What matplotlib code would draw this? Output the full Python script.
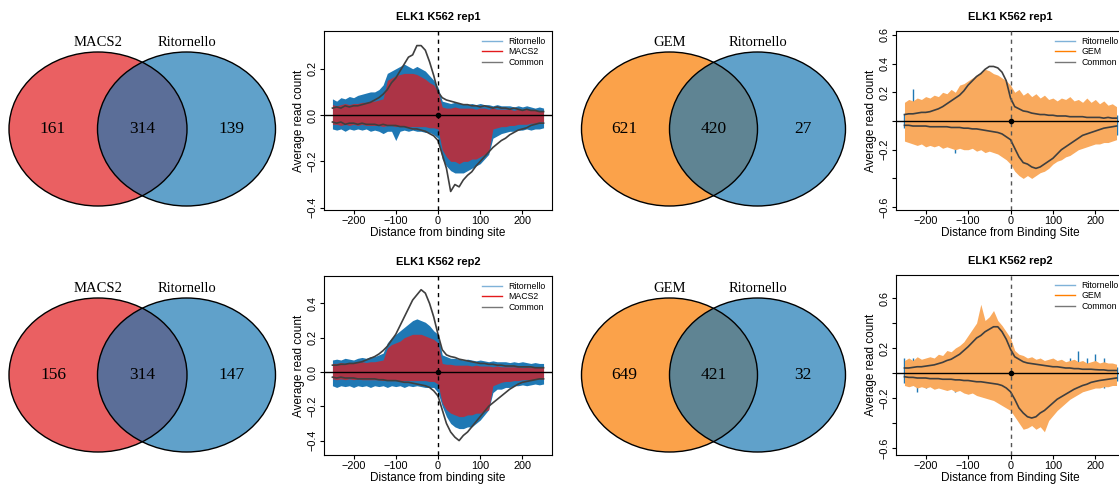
import matplotlib.pyplot as plt
from matplotlib.patches import Ellipse
from matplotlib.lines import Line2D

plt.rcParams['font.family'] = 'Liberation Sans'

# venn counts: [left only, overlap, right only]
venn_macs_rep1 = [161, 314, 139]
venn_macs_rep2 = [156, 314, 147]
venn_gem_rep1 = [621, 420, 27]
venn_gem_rep2 = [649, 421, 32]

# profile positions (bp from binding site), sampled every 10 bp
pos_bp = list(range(-250, 251, 10))

# ---- ELK1 K562 rep1, MACS2 vs Ritornello ----
rit_fwd_m1 = [0.07, 0.06, 0.075, 0.07, 0.08, 0.075, 0.085, 0.09, 0.095, 0.10,
              0.10, 0.11, 0.13, 0.18, 0.19, 0.20, 0.21, 0.22, 0.21, 0.20,
              0.21, 0.20, 0.19, 0.17, 0.15, 0.12, 0.06, 0.055, 0.05, 0.055,
              0.05, 0.05, 0.045, 0.05, 0.045, 0.05, 0.045, 0.045, 0.04, 0.045,
              0.04, 0.04, 0.04, 0.035, 0.04, 0.035, 0.04, 0.035, 0.03, 0.035, 0.03]
rit_rev_m1 = [-0.06, -0.065, -0.06, -0.07, -0.06, -0.065, -0.06, -0.065, -0.06, -0.07,
              -0.065, -0.07, -0.08, -0.07, -0.07, -0.11, -0.07, -0.065, -0.07, -0.065,
              -0.07, -0.07, -0.075, -0.075, -0.085, -0.10, -0.19, -0.22, -0.24, -0.25,
              -0.25, -0.25, -0.24, -0.23, -0.22, -0.21, -0.19, -0.17, -0.10, -0.09,
              -0.08, -0.075, -0.07, -0.07, -0.065, -0.065, -0.06, -0.065, -0.06, -0.06, -0.055]
macs_fwd_1 = [0.045, 0.04, 0.045, 0.05, 0.045, 0.05, 0.05, 0.055, 0.055, 0.06,
              0.06, 0.065, 0.07, 0.15, 0.16, 0.17, 0.175, 0.18, 0.18, 0.18,
              0.175, 0.165, 0.155, 0.14, 0.13, 0.10, 0.035, 0.03, 0.03, 0.035,
              0.03, 0.03, 0.03, 0.03, 0.025, 0.03, 0.03, 0.025, 0.03, 0.025,
              0.025, 0.025, 0.025, 0.02, 0.025, 0.02, 0.025, 0.02, 0.02, 0.02, 0.02]
macs_rev_1 = [-0.04, -0.04, -0.045, -0.04, -0.045, -0.04, -0.045, -0.04, -0.045, -0.045,
              -0.045, -0.045, -0.05, -0.045, -0.045, -0.05, -0.045, -0.05, -0.05, -0.05,
              -0.05, -0.05, -0.05, -0.055, -0.055, -0.06, -0.15, -0.18, -0.20, -0.20,
              -0.21, -0.20, -0.20, -0.19, -0.19, -0.18, -0.17, -0.16, -0.06, -0.055,
              -0.05, -0.05, -0.045, -0.045, -0.04, -0.04, -0.04, -0.035, -0.035, -0.03, -0.03]
com_fwd_m1 = [0.03, 0.035, 0.03, 0.04, 0.035, 0.04, 0.04, 0.045, 0.05, 0.055,
              0.065, 0.075, 0.09, 0.11, 0.14, 0.16, 0.19, 0.22, 0.25, 0.26,
              0.30, 0.30, 0.28, 0.23, 0.17, 0.10, 0.075, 0.065, 0.06, 0.055,
              0.05, 0.045, 0.045, 0.04, 0.04, 0.035, 0.04, 0.035, 0.03, 0.035,
              0.03, 0.03, 0.025, 0.03, 0.025, 0.02, 0.025, 0.02, 0.02, 0.015, 0.015]
com_rev_m1 = [-0.03, -0.035, -0.03, -0.04, -0.035, -0.035, -0.04, -0.035, -0.04, -0.04,
              -0.04, -0.045, -0.04, -0.045, -0.045, -0.045, -0.05, -0.05, -0.055, -0.06,
              -0.06, -0.065, -0.07, -0.08, -0.09, -0.11, -0.17, -0.23, -0.33, -0.30,
              -0.31, -0.28, -0.26, -0.245, -0.22, -0.20, -0.18, -0.16, -0.14, -0.125,
              -0.11, -0.10, -0.085, -0.075, -0.065, -0.06, -0.055, -0.045, -0.04, -0.035, -0.035]

# ---- ELK1 K562 rep2, MACS2 vs Ritornello ----
rit_fwd_m2 = [0.07, 0.075, 0.07, 0.08, 0.075, 0.07, 0.08, 0.085, 0.08, 0.09,
              0.09, 0.10, 0.11, 0.17, 0.20, 0.22, 0.24, 0.26, 0.28, 0.30,
              0.31, 0.30, 0.29, 0.27, 0.24, 0.22, 0.10, 0.09, 0.08, 0.08,
              0.075, 0.07, 0.075, 0.07, 0.065, 0.07, 0.065, 0.06, 0.065, 0.06,
              0.06, 0.06, 0.055, 0.06, 0.055, 0.06, 0.055, 0.05, 0.055, 0.05, 0.05]
rit_rev_m2 = [-0.08, -0.09, -0.08, -0.085, -0.08, -0.09, -0.08, -0.085, -0.08, -0.09,
              -0.08, -0.085, -0.08, -0.09, -0.08, -0.085, -0.08, -0.09, -0.08, -0.085,
              -0.08, -0.085, -0.09, -0.09, -0.09, -0.12, -0.20, -0.26, -0.30, -0.32,
              -0.33, -0.33, -0.32, -0.32, -0.30, -0.28, -0.25, -0.22, -0.12, -0.10,
              -0.10, -0.09, -0.09, -0.08, -0.08, -0.075, -0.08, -0.075, -0.07, -0.075, -0.07]
macs_fwd_2 = [0.05, 0.05, 0.055, 0.05, 0.055, 0.05, 0.055, 0.06, 0.055, 0.06,
              0.06, 0.065, 0.07, 0.14, 0.16, 0.17, 0.18, 0.20, 0.21, 0.22,
              0.22, 0.22, 0.21, 0.20, 0.19, 0.17, 0.05, 0.045, 0.045, 0.04,
              0.04, 0.04, 0.04, 0.035, 0.04, 0.035, 0.035, 0.035, 0.03, 0.035,
              0.03, 0.03, 0.03, 0.03, 0.03, 0.025, 0.03, 0.025, 0.03, 0.025, 0.03]
macs_rev_2 = [-0.04, -0.045, -0.04, -0.045, -0.04, -0.045, -0.04, -0.045, -0.045, -0.045,
              -0.045, -0.045, -0.05, -0.045, -0.05, -0.045, -0.05, -0.05, -0.05, -0.05,
              -0.05, -0.05, -0.05, -0.055, -0.055, -0.07, -0.18, -0.22, -0.24, -0.25,
              -0.26, -0.26, -0.25, -0.25, -0.24, -0.24, -0.23, -0.22, -0.08, -0.07,
              -0.06, -0.055, -0.055, -0.05, -0.05, -0.045, -0.045, -0.045, -0.04, -0.04, -0.04]
com_fwd_m2 = [0.04, 0.04, 0.045, 0.045, 0.05, 0.05, 0.055, 0.06, 0.07, 0.08,
              0.09, 0.105, 0.125, 0.15, 0.185, 0.22, 0.27, 0.32, 0.37, 0.42,
              0.45, 0.48, 0.46, 0.40, 0.32, 0.22, 0.13, 0.10, 0.09, 0.085,
              0.075, 0.07, 0.065, 0.06, 0.055, 0.05, 0.05, 0.045, 0.045, 0.04,
              0.04, 0.035, 0.035, 0.035, 0.03, 0.03, 0.03, 0.03, 0.025, 0.025, 0.025]
com_rev_m2 = [-0.03, -0.035, -0.03, -0.035, -0.035, -0.035, -0.04, -0.04, -0.04, -0.04,
              -0.04, -0.045, -0.045, -0.05, -0.05, -0.05, -0.055, -0.06, -0.06, -0.065,
              -0.07, -0.075, -0.08, -0.09, -0.11, -0.14, -0.22, -0.30, -0.35, -0.38,
              -0.40, -0.37, -0.35, -0.32, -0.29, -0.26, -0.23, -0.20, -0.18, -0.16,
              -0.14, -0.12, -0.10, -0.085, -0.07, -0.06, -0.055, -0.05, -0.045, -0.04, -0.04]

# ---- ELK1 K562 rep1, GEM vs Ritornello ----
rit_fwd_g1 = [0.05, 0.06, 0.22, 0.05, 0.06, 0.05, 0.06, 0.05, 0.06, 0.05,
              0.06, 0.05, 0.07, 0.06, 0.08, 0.07, 0.20, 0.08, 0.09, 0.10,
              0.09, 0.10, 0.09, 0.10, 0.26, 0.08, 0.06, 0.05, 0.12, 0.05,
              0.05, 0.04, 0.05, 0.04, 0.05, 0.04, 0.05, 0.04, 0.05, 0.04,
              0.04, 0.05, 0.04, 0.05, 0.04, 0.04, 0.05, 0.04, 0.04, 0.05, 0.04]
rit_rev_g1 = [-0.05, -0.06, -0.05, -0.06, -0.05, -0.06, -0.12, -0.05, -0.06, -0.05,
              -0.06, -0.05, -0.22, -0.06, -0.05, -0.06, -0.05, -0.06, -0.07, -0.06,
              -0.07, -0.08, -0.07, -0.08, -0.09, -0.10, -0.12, -0.25, -0.10, -0.08,
              -0.07, -0.06, -0.07, -0.06, -0.05, -0.06, -0.05, -0.06, -0.05, -0.10,
              -0.05, -0.06, -0.05, -0.06, -0.05, -0.06, -0.05, -0.12, -0.05, -0.06, -0.10]
gem_fwd_1 = [0.13, 0.15, 0.14, 0.16, 0.15, 0.17, 0.16, 0.18, 0.17, 0.20,
             0.19, 0.22, 0.20, 0.25, 0.26, 0.28, 0.30, 0.32, 0.34, 0.36,
             0.35, 0.33, 0.32, 0.30, 0.28, 0.25, 0.20, 0.22, 0.18, 0.20,
             0.17, 0.19, 0.16, 0.18, 0.15, 0.16, 0.14, 0.16, 0.15, 0.17,
             0.14, 0.15, 0.13, 0.16, 0.13, 0.15, 0.12, 0.14, 0.11, 0.12, 0.10]
gem_rev_1 = [-0.14, -0.15, -0.16, -0.17, -0.16, -0.18, -0.17, -0.18, -0.17, -0.19,
             -0.18, -0.19, -0.20, -0.19, -0.20, -0.20, -0.19, -0.21, -0.20, -0.22,
             -0.21, -0.22, -0.23, -0.25, -0.27, -0.30, -0.35, -0.38, -0.40, -0.38,
             -0.40, -0.38, -0.36, -0.35, -0.33, -0.30, -0.28, -0.27, -0.25, -0.24,
             -0.22, -0.20, -0.19, -0.18, -0.17, -0.16, -0.16, -0.15, -0.15, -0.14, -0.13]
com_fwd_g1 = [0.045, 0.05, 0.05, 0.055, 0.06, 0.06, 0.065, 0.075, 0.085, 0.10,
              0.12, 0.14, 0.16, 0.18, 0.21, 0.25, 0.28, 0.31, 0.33, 0.36,
              0.38, 0.38, 0.37, 0.34, 0.28, 0.16, 0.10, 0.085, 0.07, 0.065,
              0.055, 0.05, 0.045, 0.045, 0.04, 0.04, 0.035, 0.035, 0.035, 0.03,
              0.03, 0.03, 0.03, 0.025, 0.025, 0.025, 0.025, 0.02, 0.025, 0.02, 0.02]
com_rev_g1 = [-0.03, -0.03, -0.035, -0.035, -0.035, -0.035, -0.04, -0.04, -0.04, -0.04,
              -0.04, -0.045, -0.045, -0.045, -0.05, -0.05, -0.055, -0.055, -0.06, -0.065,
              -0.07, -0.075, -0.08, -0.09, -0.11, -0.13, -0.19, -0.25, -0.29, -0.30,
              -0.32, -0.33, -0.32, -0.30, -0.28, -0.26, -0.23, -0.20, -0.18, -0.16,
              -0.14, -0.12, -0.10, -0.09, -0.08, -0.07, -0.06, -0.05, -0.045, -0.04, -0.035]

# ---- ELK1 K562 rep2, GEM vs Ritornello ----
rit_fwd_g2 = [0.12, 0.10, 0.12, 0.06, 0.05, 0.10, 0.05, 0.06, 0.05, 0.06,
              0.06, 0.07, 0.08, 0.09, 0.10, 0.12, 0.12, 0.14, 0.15, 0.16,
              0.17, 0.18, 0.16, 0.14, 0.12, 0.10, 0.06, 0.05, 0.06, 0.05,
              0.05, 0.06, 0.05, 0.06, 0.05, 0.06, 0.05, 0.06, 0.05, 0.12,
              0.05, 0.18, 0.05, 0.12, 0.05, 0.15, 0.05, 0.12, 0.05, 0.06, 0.05]
rit_rev_g2 = [-0.08, -0.10, -0.08, -0.15, -0.08, -0.12, -0.07, -0.08, -0.07, -0.08,
              -0.08, -0.09, -0.15, -0.09, -0.10, -0.10, -0.10, -0.11, -0.12, -0.12,
              -0.13, -0.14, -0.15, -0.16, -0.18, -0.20, -0.22, -0.25, -0.28, -0.30,
              -0.30, -0.28, -0.27, -0.25, -0.22, -0.20, -0.18, -0.16, -0.14, -0.12,
              -0.10, -0.08, -0.14, -0.07, -0.12, -0.07, -0.06, -0.12, -0.06, -0.07, -0.06]
gem_fwd_2 = [0.10, 0.12, 0.10, 0.13, 0.11, 0.12, 0.13, 0.12, 0.15, 0.14,
             0.18, 0.17, 0.20, 0.22, 0.25, 0.30, 0.35, 0.40, 0.55, 0.42,
             0.45, 0.50, 0.42, 0.38, 0.33, 0.28, 0.18, 0.15, 0.14, 0.12,
             0.13, 0.11, 0.12, 0.10, 0.11, 0.12, 0.10, 0.11, 0.09, 0.10,
             0.11, 0.09, 0.10, 0.08, 0.09, 0.10, 0.08, 0.09, 0.08, 0.08, 0.07]
gem_rev_2 = [-0.10, -0.11, -0.10, -0.12, -0.11, -0.12, -0.11, -0.13, -0.12, -0.13,
             -0.14, -0.13, -0.15, -0.14, -0.16, -0.17, -0.16, -0.18, -0.19, -0.20,
             -0.21, -0.22, -0.24, -0.26, -0.28, -0.30, -0.35, -0.40, -0.45, -0.44,
             -0.42, -0.45, -0.43, -0.47, -0.38, -0.34, -0.30, -0.27, -0.24, -0.21,
             -0.19, -0.17, -0.15, -0.14, -0.13, -0.12, -0.12, -0.11, -0.11, -0.10, -0.10]
com_fwd_g2 = [0.04, 0.04, 0.045, 0.05, 0.05, 0.055, 0.06, 0.065, 0.075, 0.085,
              0.10, 0.11, 0.13, 0.15, 0.18, 0.21, 0.245, 0.28, 0.30, 0.33,
              0.35, 0.37, 0.37, 0.33, 0.27, 0.19, 0.13, 0.11, 0.09, 0.08,
              0.075, 0.07, 0.065, 0.06, 0.055, 0.05, 0.05, 0.045, 0.04, 0.04,
              0.035, 0.035, 0.03, 0.03, 0.03, 0.027, 0.025, 0.025, 0.02, 0.02, 0.02]
com_rev_g2 = [-0.03, -0.035, -0.035, -0.04, -0.04, -0.04, -0.045, -0.045, -0.045, -0.05,
              -0.05, -0.05, -0.055, -0.055, -0.06, -0.06, -0.065, -0.07, -0.07, -0.075,
              -0.08, -0.085, -0.09, -0.10, -0.12, -0.15, -0.21, -0.28, -0.32, -0.35,
              -0.36, -0.35, -0.32, -0.30, -0.27, -0.24, -0.21, -0.19, -0.17, -0.15,
              -0.13, -0.115, -0.10, -0.09, -0.075, -0.067, -0.06, -0.055, -0.05, -0.045, -0.04]

BLUE = '#1f78b4'
RED = '#e31a1c'
ORANGE = '#f9aa5e'
GRAY = '#3f3f3f'

W, H = 1119, 484
fig = plt.figure(figsize=(W / 100, H / 100), dpi=100)

# venn diagrams drawn in pixel coordinates
vax = fig.add_axes([0, 0, 1, 1])
vax.set_xlim(0, W)
vax.set_ylim(H, 0)
vax.axis('off')


def venn(cl, cr, cy, w, h, names, counts, col_l, col_mid, col_r):
    e1 = Ellipse((cl, cy), w, h, fc=col_l, ec='none')
    e2 = Ellipse((cr, cy), w, h, fc=col_r, ec='none')
    vax.add_patch(e1)
    vax.add_patch(e2)
    mid = Ellipse((cl, cy), w, h, fc=col_mid, ec='none')
    vax.add_patch(mid)
    mid.set_clip_path(e2)
    for c in (cl, cr):
        vax.add_patch(Ellipse((c, cy), w, h, fc='none', ec='black', lw=1.0))
    tf = dict(family='Liberation Serif', ha='center', va='center')
    vax.text(cl, cy - 86, names[0], fontsize=10.5, **tf)
    vax.text(cr, cy - 86, names[1], fontsize=10.5, **tf)
    vax.text(cl - 45, cy, str(counts[0]), fontsize=12.5, **tf)
    vax.text((cl + cr) / 2, cy, str(counts[1]), fontsize=12.5, **tf)
    vax.text(cr + 45, cy, str(counts[2]), fontsize=12.5, **tf)


venn(98, 186.5, 129, 178, 154, ['MACS2', 'Ritornello'], venn_macs_rep1,
     '#ea6062', '#5b6e98', '#60a1ca')
venn(98, 186.5, 375, 178, 154, ['MACS2', 'Ritornello'], venn_macs_rep2,
     '#ea6062', '#5b6e98', '#60a1ca')
venn(669.5, 757.5, 129, 176, 154, ['GEM', 'Ritornello'], venn_gem_rep1,
     '#fba24a', '#5f8493', '#60a1ca')
venn(669.5, 757.5, 375, 176, 154, ['GEM', 'Ritornello'], venn_gem_rep2,
     '#fba24a', '#5f8493', '#60a1ca')


def px_axes(l, r, t, b):
    return fig.add_axes([l / W, 1 - b / H, (r - l) / W, (b - t) / H])


def style(ax, title, xlabel, ylim, yticks, ylabels, vcol):
    ax.set_xlim(-270, 270)
    ax.set_ylim(*ylim)
    ax.set_xticks([-200, -100, 0, 100, 200])
    ax.set_yticks(yticks)
    ax.set_yticklabels(ylabels)
    ax.tick_params(direction='out', length=3, width=0.8, labelsize=7.8, pad=1.5)
    ax.tick_params(axis='y', labelrotation=90)
    for lab in ax.get_yticklabels():
        lab.set_va('center')
    for s in ax.spines.values():
        s.set_linewidth(0.8)
    ax.axhline(0, color='black', lw=1.0, zorder=5)
    ax.axvline(0, color=vcol, lw=1.0, ls=(0, (3, 3)), zorder=5)
    ax.plot([0], [0], 'o', color='black', ms=3, zorder=6)
    ax.set_title(title, fontsize=8, fontweight='bold', pad=8)
    ax.set_xlabel(xlabel, fontsize=8.5, labelpad=0.5)
    ax.set_ylabel('Average read count', fontsize=8.5, labelpad=2)


def legend(ax, other, other_col):
    handles = [Line2D([], [], color='#7fb2d8', lw=1),
               Line2D([], [], color=other_col, lw=1),
               Line2D([], [], color='#777777', lw=1)]
    ax.legend(handles, ['Ritornello', other, 'Common'], loc='upper right',
              frameon=False, fontsize=6.3, handlelength=2.2, labelspacing=0.15,
              handletextpad=0.8, borderaxespad=0.3)


def macs_panel(ax, rf, rr, mf, mr, cf, cr):
    ax.fill_between(pos_bp, 0, rf, color=BLUE, lw=0)
    ax.fill_between(pos_bp, 0, rr, color=BLUE, lw=0)
    ax.fill_between(pos_bp, 0, mf, color=RED, alpha=0.72, lw=0)
    ax.fill_between(pos_bp, 0, mr, color=RED, alpha=0.72, lw=0)
    ax.plot(pos_bp, cf, color=GRAY, lw=1.2, zorder=4)
    ax.plot(pos_bp, cr, color=GRAY, lw=1.2, zorder=4)


def gem_panel(ax, rf, rr, gf, gr, cf, cr):
    # ritornello spikes sit underneath the GEM profile
    ax.vlines(pos_bp, 0, rf, color=BLUE, lw=1.0, zorder=1)
    ax.vlines(pos_bp, 0, rr, color=BLUE, lw=1.0, zorder=1)
    ax.fill_between(pos_bp, 0, gf, color=ORANGE, lw=0, zorder=2)
    ax.fill_between(pos_bp, 0, gr, color=ORANGE, lw=0, zorder=2)
    ax.plot(pos_bp, cf, color=GRAY, lw=1.2, zorder=4)
    ax.plot(pos_bp, cr, color=GRAY, lw=1.2, zorder=4)


ax1 = px_axes(324, 552, 31, 210)
macs_panel(ax1, rit_fwd_m1, rit_rev_m1, macs_fwd_1, macs_rev_1, com_fwd_m1, com_rev_m1)
style(ax1, 'ELK1 K562 rep1', 'Distance from binding site', (-0.41, 0.363),
      [-0.4, -0.2, 0.0, 0.2], ['\u22120.4', '\u22120.2', '0.0', '0.2'], 'black')
legend(ax1, 'MACS2', RED)

ax3 = px_axes(324, 552, 276, 455)
macs_panel(ax3, rit_fwd_m2, rit_rev_m2, macs_fwd_2, macs_rev_2, com_fwd_m2, com_rev_m2)
style(ax3, 'ELK1 K562 rep2', 'Distance from binding site', (-0.484, 0.56),
      [-0.4, -0.2, 0.0, 0.2, 0.4], ['\u22120.4', '\u22120.2', '0.0', '0.2', '0.4'], 'black')
legend(ax3, 'MACS2', RED)

gem_ticks = [-0.6, -0.4, -0.2, 0.0, 0.2, 0.4, 0.6]
ax2 = px_axes(896, 1125, 31, 210)
gem_panel(ax2, rit_fwd_g1, rit_rev_g1, gem_fwd_1, gem_rev_1, com_fwd_g1, com_rev_g1)
style(ax2, 'ELK1 K562 rep1', 'Distance from Binding Site', (-0.62, 0.627),
      gem_ticks, ['\u22120.6', '', '\u22120.2', '', '0.2', '0.4', '0.6'], '#555555')
legend(ax2, 'GEM', '#ff7f00')

ax4 = px_axes(896, 1125, 275, 455)
gem_panel(ax4, rit_fwd_g2, rit_rev_g2, gem_fwd_2, gem_rev_2, com_fwd_g2, com_rev_g2)
style(ax4, 'ELK1 K562 rep2', 'Distance from Binding Site', (-0.656, 0.784),
      gem_ticks, ['\u22120.6', '', '\u22120.2', '', '0.2', '', '0.6'], '#555555')
legend(ax4, 'GEM', '#ff7f00')

fig.savefig('out.png', dpi=100)
